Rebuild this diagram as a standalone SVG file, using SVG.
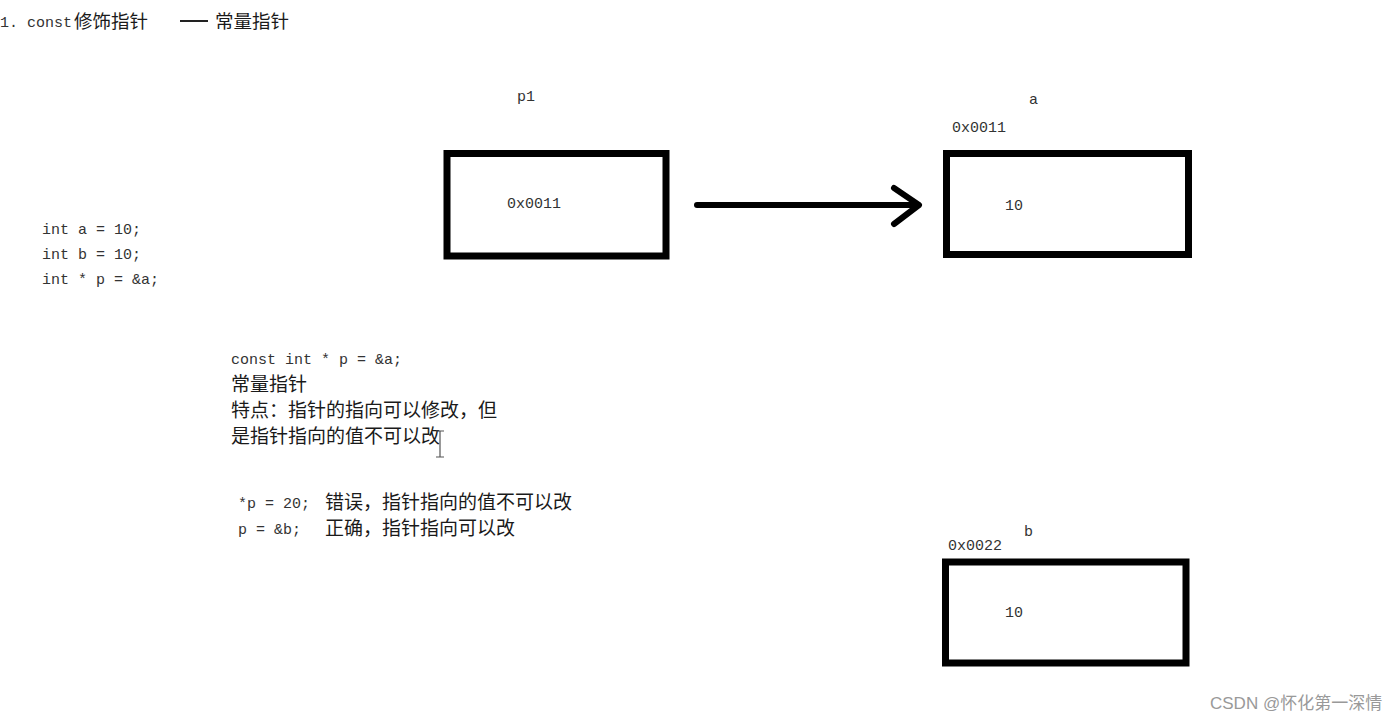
<svg xmlns="http://www.w3.org/2000/svg" width="1400" height="720" viewBox="0 0 1400 720">
<style>
.code{font-family:"Liberation Mono","Noto Sans CJK SC",monospace;font-size:15px;fill:#333}
.cn{font-family:"Noto Sans CJK SC",sans-serif;font-size:19px;fill:#1a1a1a}
.box{fill:#fff;stroke:#000;stroke-width:7}
.lbl{font-family:"Liberation Mono","Noto Sans CJK SC",monospace;font-size:15px;fill:#333}
.wm{font-family:"Liberation Sans","Noto Sans CJK SC",sans-serif;font-size:17px;fill:#999}
</style>
<rect width="1400" height="720" fill="#fff"/>
<text class="code" x="0" y="27">1. const</text>
<text class="cn" x="74" y="28" style="font-size:18.5px">修饰指针</text>
<path d="M180 21H208" stroke="#222" stroke-width="2"/>
<text class="cn" x="215" y="28" style="font-size:18.5px">常量指针</text>

<g id="code-left">
<text class="code" x="42" y="234">int a = 10;</text>
<text class="code" x="42" y="259">int b = 10;</text>
<text class="code" x="42" y="284">int * p = &amp;a;</text>
</g>

<g id="explain">
<text class="code" x="231" y="364">const int * p = &amp;a;</text>
<text class="cn" x="231" y="391">常量指针</text>
<text class="cn" x="231" y="417">特点：指针的指向可以修改，但</text>
<text class="cn" x="231" y="443">是指针指向的值不可以改</text>
<path d="M436 431h8M440 431v26M436 457h8" stroke="#555" stroke-width="1.2" fill="none"/>
</g>

<g id="examples">
<text class="code" x="238" y="508">*p = 20;</text>
<text class="cn" x="325" y="509">错误，指针指向的值不可以改</text>
<text class="code" x="238" y="534">p = &amp;b;</text>
<text class="cn" x="325" y="535">正确，指针指向可以改</text>
</g>

<g id="node-p1">
<text class="lbl" x="517" y="101">p1</text>
<rect class="box" x="447" y="153.5" width="219" height="102.5"/>
<text class="lbl" x="507" y="208">0x0011</text>
</g>

<g id="node-a">
<text class="lbl" x="1029" y="104">a</text>
<text class="lbl" x="952" y="132">0x0011</text>
<rect class="box" x="946.5" y="153.5" width="242" height="101"/>
<text class="lbl" x="1005" y="210">10</text>
</g>

<g id="node-b">
<text class="lbl" x="1024" y="536">b</text>
<text class="lbl" x="948" y="550">0x0022</text>
<rect class="box" x="945.5" y="562" width="240.5" height="101"/>
<text class="lbl" x="1005" y="617">10</text>
</g>

<g id="connectors">
<path d="M697 205H918" stroke="#000" stroke-width="6" stroke-linecap="round" fill="none"/>
<path d="M894 188L919 205L894 224" stroke="#000" stroke-width="6" stroke-linecap="round" stroke-linejoin="round" fill="none"/>
</g>

<text class="wm" x="1210" y="709">CSDN @怀化第一深情</text>
</svg>
